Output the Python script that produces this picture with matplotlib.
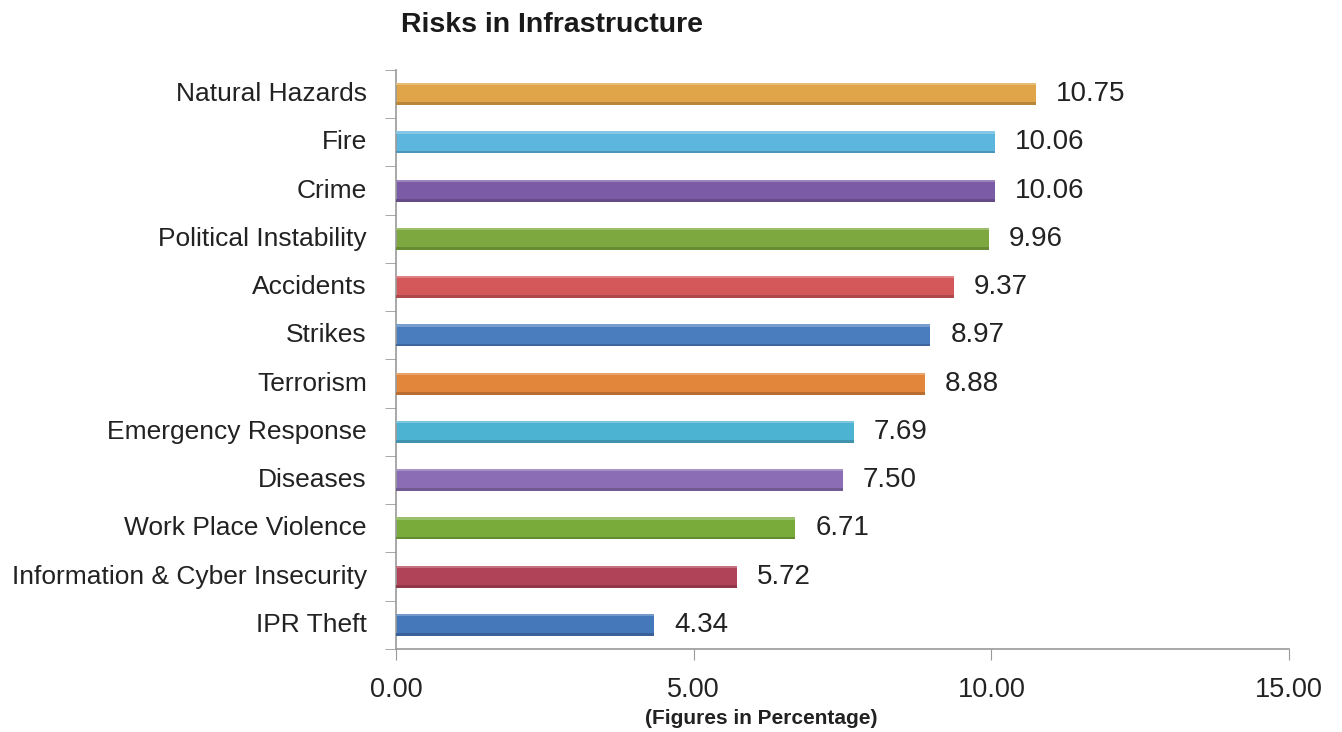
import numpy as np
import matplotlib.pyplot as plt
from matplotlib.colors import to_rgb

plt.rcParams['font.family'] = ['Liberation Sans', 'DejaVu Sans']

# risk categories, top to bottom
risks = ['Natural Hazards', 'Fire', 'Crime', 'Political Instability', 'Accidents',
         'Strikes', 'Terrorism', 'Emergency Response', 'Diseases',
         'Work Place Violence', 'Information & Cyber Insecurity', 'IPR Theft']
values = [10.75, 10.06, 10.06, 9.96, 9.37, 8.97, 8.88, 7.69, 7.50, 6.71, 5.72, 4.34]
colors = ['#E0A548', '#5DB6DE', '#7B5BA6', '#7DA83F', '#D4585A', '#4A7DBE',
          '#E1863A', '#4DB3D3', '#8A6DB4', '#78AB3A', '#B14358', '#4478BA']
xticks = [0, 5, 10, 15]


def shade(c, f):
    r = np.array(to_rgb(c))
    if f < 0:
        return tuple(r * (1 + f))
    return tuple(r + (1 - r) * f)


fig = plt.figure(figsize=(13.42, 7.32), dpi=100)
ax = fig.add_axes([0.2951, 0.1134, 0.6654, 0.7910])

n = len(risks)
ypos = np.arange(n)
h = 0.46
for y, v, c in zip(ypos, values, colors):
    ax.barh(y, v, height=h, color=c, linewidth=0, zorder=2)
    # light rim on top, darker rim on bottom
    ax.barh(y - h / 2 + 0.025, v, height=0.05, color=shade(c, 0.25), linewidth=0, zorder=3)
    ax.barh(y + h / 2 - 0.03, v, height=0.06, color=shade(c, -0.18), linewidth=0, zorder=3)
    ax.text(v + 0.34, y, f'{v:.2f}', va='center', ha='left', fontsize=20, color='#222222')

ax.set_ylim(n - 0.5, -0.5)
ax.set_xlim(0, 15)
ax.set_yticks(ypos)
ax.set_yticklabels(risks, fontsize=19, color='#222222', va='center')
ax.set_yticks(np.arange(n + 1) - 0.5, minor=True)
ax.tick_params(axis='y', which='major', length=0, pad=21)
ax.tick_params(axis='y', which='minor', length=8, color='#999999', direction='out')
ax.set_xticks(xticks)
ax.set_xticklabels([f'{t:.2f}' for t in xticks], fontsize=19.5, color='#222222')
ax.tick_params(axis='x', length=8, color='#999999', direction='out', pad=12)

for s in ['top', 'right']:
    ax.spines[s].set_visible(False)
for s in ['left', 'bottom']:
    ax.spines[s].set_color('#999999')
    ax.spines[s].set_linewidth(1.2)

fig.text(761 / 1342, 1 - 718 / 732, '(Figures in Percentage)', fontsize=15, fontweight='bold',
         color='#222222', va='center', ha='center')
fig.text(401 / 1342, 1 - 25 / 732, 'Risks in Infrastructure', fontsize=20.5, fontweight='bold',
         color='#1a1a1a', va='center', ha='left')

fig.savefig('out.png', dpi=100)
